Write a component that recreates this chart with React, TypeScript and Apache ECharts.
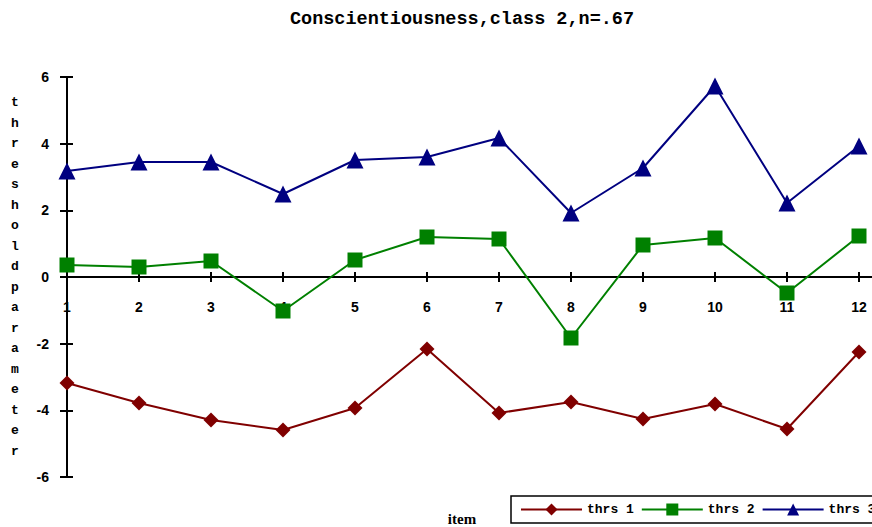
import React, { useEffect, useRef } from "react";
import * as echarts from "echarts";

// Item numbers along the x axis
const items = [1, 2, 3, 4, 5, 6, 7, 8, 9, 10, 11, 12];

// Threshold parameters per item
const thrs1 = [-3.18, -3.78, -4.29, -4.59, -3.93, -2.16, -4.08, -3.75, -4.26, -3.81, -4.56, -2.25];
const thrs2 = [0.36, 0.3, 0.48, -1.02, 0.51, 1.2, 1.14, -1.83, 0.96, 1.17, -0.48, 1.23];
const thrs3 = [3.18, 3.45, 3.45, 2.49, 3.51, 3.6, 4.17, 1.92, 3.27, 5.73, 2.22, 3.93];

const seriesNames = ["thrs 1", "thrs 2", "thrs 3"];
const yTicks = [-6, -4, -2, 0, 2, 4, 6];

const titleText = "Conscientiousness,class 2,n=.67";
const yAxisTitle = "threshold parameter";
const xAxisTitle = "item";

const toPairs = (vals: number[]) => items.map((it, i) => [it, vals[i]]);

export default function App() {
  const ref = useRef<HTMLDivElement>(null);

  useEffect(() => {
    if (!ref.current) return;
    const chart = echarts.init(ref.current, undefined, { renderer: "svg" });

    const mono = "'Liberation Mono', 'DejaVu Sans Mono', monospace";
    const sans = "'Liberation Sans', Arial, sans-serif";
    const axisLine = { lineStyle: { color: "#000", width: 2 } };

    // plot area: y range -6..6 spans 400px, x axis reaches past the right edge
    const gridTop = 77;
    const gridHeight = 400;
    const zeroOffset = -gridHeight / 2; // lifts the x axis from the bottom edge up to y = 0

    const lineSeries = (name: string, vals: number[], color: string, symbol: string, size: number) => ({
      name,
      type: "line",
      data: toPairs(vals),
      xAxisIndex: 0,
      yAxisIndex: 0,
      symbol,
      symbolSize: size,
      lineStyle: { color, width: 2 },
      itemStyle: { color },
      z: 5,
    });

    chart.setOption({
      animation: false,
      backgroundColor: "#fff",
      grid: {
        left: 67,
        top: gridTop,
        width: 864,
        height: gridHeight,
        containLabel: false,
        outerBoundsMode: "none",
      },
      graphic: [
        {
          type: "text",
          x: 462,
          y: 19,
          style: {
            text: titleText,
            fontFamily: mono,
            fontWeight: "bold",
            fontSize: 18.5,
            fill: "#000",
            textAlign: "center",
            textVerticalAlign: "middle",
          },
        },
        {
          type: "text",
          x: 462,
          y: 519,
          style: {
            text: xAxisTitle,
            fontFamily: "'Liberation Serif', 'DejaVu Serif', serif",
            fontWeight: "bold",
            fontSize: 15,
            fill: "#000",
            textAlign: "center",
            textVerticalAlign: "middle",
          },
        },
      ],
      legend: {
        data: seriesNames,
        left: 511,
        top: 496,
        width: 420,
        orient: "horizontal",
        itemWidth: 61,
        itemHeight: 15,
        itemGap: 7,
        padding: [7, 9],
        borderColor: "#000",
        borderWidth: 1.5,
        borderRadius: 0,
        textStyle: { fontFamily: mono, fontWeight: "bold", fontSize: 13, color: "#000" },
      },
      xAxis: [
        {
          type: "value",
          min: 1,
          max: 13,
          interval: 1,
          position: "bottom",
          offset: zeroOffset,
          axisLine: { ...axisLine, onZero: false },
          axisTick: { show: true, inside: false, length: 5, lineStyle: { color: "#000", width: 2 } },
          axisLabel: {
            margin: 23,
            fontFamily: sans,
            fontWeight: "bold",
            fontSize: 14,
            color: "#000",
            formatter: (v: number) => (items.includes(v) ? String(v) : ""),
          },
          splitLine: { show: false },
        },
        {
          type: "value",
          min: 1,
          max: 13,
          interval: 1,
          position: "bottom",
          offset: zeroOffset,
          axisLine: { show: false, onZero: false },
          axisTick: { show: true, inside: true, length: 5, lineStyle: { color: "#000", width: 2 } },
          axisLabel: { show: false },
          splitLine: { show: false },
        },
      ],
      yAxis: [
        {
          type: "value",
          min: yTicks[0],
          max: yTicks[yTicks.length - 1],
          interval: 2,
          axisLine: { ...axisLine, onZero: false },
          axisTick: { show: true, inside: false, length: 7, lineStyle: { color: "#000", width: 2 } },
          axisLabel: {
            margin: 18,
            fontFamily: sans,
            fontWeight: "bold",
            fontSize: 14,
            color: "#000",
          },
          splitLine: { show: false },
          name: yAxisTitle.replace(/\s+/g, "").split("").join("\n"),
          nameLocation: "middle",
          nameRotate: 0,
          nameGap: 52,
          nameTextStyle: {
            fontFamily: mono,
            fontWeight: "bold",
            fontSize: 13,
            lineHeight: 20.5,
            color: "#000",
            align: "center",
            verticalAlign: "middle",
          },
        },
        {
          type: "value",
          min: yTicks[0],
          max: yTicks[yTicks.length - 1],
          interval: 2,
          position: "left",
          axisLine: { show: false, onZero: false },
          axisTick: { show: true, inside: true, length: 6, lineStyle: { color: "#000", width: 2 } },
          axisLabel: { show: false },
          splitLine: { show: false },
        },
      ],
      series: [
        lineSeries(seriesNames[0], thrs1, "#800000", "diamond", 15),
        lineSeries(seriesNames[1], thrs2, "#008000", "rect", 15),
        lineSeries(seriesNames[2], thrs3, "#000080", "triangle", 17),
      ],
    });

    return () => chart.dispose();
  }, []);

  return <div ref={ref} style={{ width: 872, height: 527, position: "absolute", left: 0, top: 0 }} />;
}
